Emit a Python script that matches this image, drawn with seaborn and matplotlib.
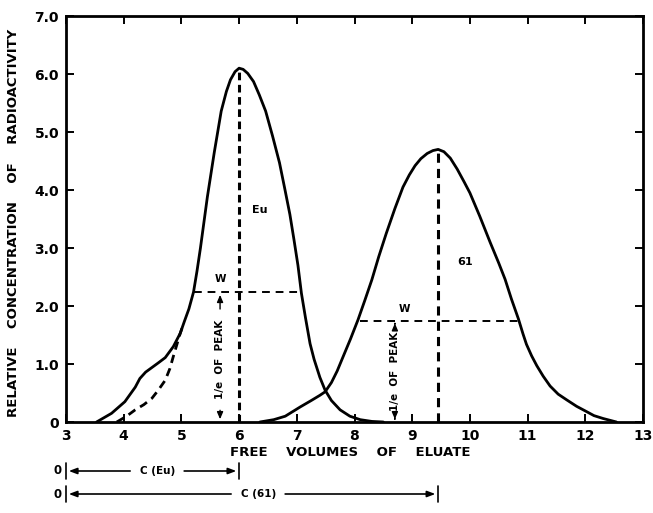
import matplotlib
matplotlib.use("Agg")
import matplotlib.pyplot as plt
import seaborn as sns
import pandas as pd
from matplotlib.transforms import blended_transform_factory

# ---------------- data ----------------
eu_x = [3.53, 3.79, 4.02, 4.20, 4.28, 4.38, 4.49, 4.60, 4.72, 4.86, 4.98, 5.05,
        5.13, 5.21, 5.27, 5.33, 5.45, 5.57, 5.69, 5.78, 5.85, 5.93, 6.00, 6.07,
        6.15, 6.25, 6.35, 6.46, 6.58, 6.70, 6.79, 6.88, 6.95, 7.02, 7.08, 7.15,
        7.23, 7.30, 7.40, 7.49, 7.60, 7.75, 7.92, 8.10, 8.30, 8.50]
eu_y = [0.00, 0.15, 0.35, 0.60, 0.75, 0.86, 0.94, 1.02, 1.11, 1.30, 1.53, 1.73,
        1.95, 2.24, 2.60, 3.00, 3.88, 4.65, 5.36, 5.70, 5.90, 6.04, 6.10, 6.08,
        6.01, 5.87, 5.64, 5.36, 4.93, 4.47, 4.03, 3.58, 3.15, 2.70, 2.22, 1.80,
        1.35, 1.08, 0.77, 0.55, 0.37, 0.21, 0.10, 0.04, 0.01, 0.00]

eu_dash_x = [3.88, 4.05, 4.20, 4.35, 4.49, 4.60, 4.72, 4.80, 4.86, 4.92, 4.98, 5.04]
eu_dash_y = [0.00, 0.10, 0.21, 0.30, 0.41, 0.55, 0.72, 0.92, 1.13, 1.33, 1.53, 1.70]

p61_x = [6.36, 6.60, 6.80, 7.06, 7.25, 7.40, 7.49, 7.60, 7.70, 7.80, 7.93, 8.06,
         8.18, 8.30, 8.42, 8.55, 8.70, 8.84, 8.95, 9.05, 9.15, 9.26, 9.36, 9.45,
         9.55, 9.66, 9.78, 9.90, 10.00, 10.17, 10.35, 10.50, 10.61, 10.72, 10.84,
         10.92, 10.98, 11.07, 11.16, 11.27, 11.39, 11.53, 11.68, 11.85, 12.02,
         12.15, 12.31, 12.54]
p61_y = [0.00, 0.04, 0.10, 0.26, 0.37, 0.46, 0.52, 0.68, 0.88, 1.12, 1.43, 1.76,
         2.10, 2.45, 2.85, 3.25, 3.68, 4.05, 4.26, 4.42, 4.54, 4.63, 4.68, 4.70,
         4.66, 4.55, 4.36, 4.14, 3.95, 3.55, 3.10, 2.74, 2.46, 2.12, 1.78,
         1.52, 1.34, 1.14, 0.97, 0.79, 0.62, 0.48, 0.38, 0.27, 0.18,
         0.11, 0.06, 0.00]

eu_peak = (6.0, 6.1)
eu_w_y = 2.24
eu_w_x = (5.21, 7.07)
p61_peak = (9.45, 4.7)
p61_w_y = 1.75
p61_w_x = (8.10, 10.84)

x_ticks = list(range(3, 14))
y_ticks = [0, 1, 2, 3, 4, 5, 6, 7]
y_tick_labels = ["0", "1.0", "2.0", "3.0", "4.0", "5.0", "6.0", "7.0"]

# ---------------- style ----------------
sns.set_theme(style="ticks")
plt.rcParams["font.family"] = ["DejaVu Sans"]
plt.rcParams["font.weight"] = "bold"
plt.rcParams["text.color"] = "black"
plt.rcParams["axes.labelcolor"] = "black"

fig = plt.figure(figsize=(6.53, 5.13), dpi=100)
ax = fig.add_axes([66 / 653, 91 / 513, 577 / 653, 406 / 513])

df_eu = pd.DataFrame({"x": eu_x, "y": eu_y})
df_eud = pd.DataFrame({"x": eu_dash_x, "y": eu_dash_y})
df_61 = pd.DataFrame({"x": p61_x, "y": p61_y})

sns.lineplot(data=df_eu, x="x", y="y", ax=ax, color="black", lw=2.0,
             sort=False, estimator=None)
sns.lineplot(data=df_61, x="x", y="y", ax=ax, color="black", lw=2.0,
             sort=False, estimator=None)
sns.lineplot(data=df_eud, x="x", y="y", ax=ax, color="black", lw=2.0,
             sort=False, estimator=None, linestyle=(0, (3, 2)))
for ln in ax.lines:
    ln.set_solid_joinstyle("round")
    ln.set_solid_capstyle("round")

# peak verticals and half-width horizontals
ax.plot([eu_peak[0], eu_peak[0]], [0, eu_peak[1]], color="black", lw=2.2,
        linestyle=(0, (2.5, 1.5)))
ax.plot([p61_peak[0], p61_peak[0]], [0, p61_peak[1]], color="black", lw=2.2,
        linestyle=(0, (3, 2)))
ax.plot(list(eu_w_x), [eu_w_y, eu_w_y], color="black", lw=1.4,
        linestyle=(0, (4, 3)))
ax.plot(list(p61_w_x), [p61_w_y, p61_w_y], color="black", lw=1.4,
        linestyle=(0, (4, 3)))

# labels on curves
ax.text(6.36, 3.65, "Eu", fontsize=8, ha="center", va="center")
ax.text(9.92, 2.76, "61", fontsize=8, ha="center", va="center")

# 1/e of peak annotations
arrow_kw = dict(arrowstyle="-|>,head_length=0.35,head_width=0.15", color="black", lw=1.0)
for xpos, wy, lo, hi in [(5.67, eu_w_y, 0.25, 1.9),
                         (8.70, p61_w_y, 0.1, 1.65)]:
    ax.text(xpos, (lo + hi) / 2, "1/e  OF  PEAK", rotation=90, fontsize=7.5,
            ha="center", va="center")
    ax.annotate("", xy=(xpos, 0.0), xytext=(xpos, lo), arrowprops=arrow_kw)
    ax.annotate("", xy=(xpos, wy), xytext=(xpos, hi), arrowprops=arrow_kw)
ax.text(5.67, 2.47, "W", fontsize=7.5, ha="center", va="center")
ax.text(8.86, 1.95, "W", fontsize=7.5, ha="center", va="center")

# axes
ax.set_xlim(3, 13)
ax.set_ylim(0, 7)
ax.set_xticks(x_ticks)
ax.set_xticklabels([str(t) for t in x_ticks])
ax.set_yticks(y_ticks)
ax.set_yticklabels(y_tick_labels)
ax.tick_params(direction="in", length=6, width=1.4, top=True, right=True,
               labelsize=10, pad=5, colors="black")
for s in ax.spines.values():
    s.set_linewidth(2.0)
    s.set_color("black")
ax.set_xlabel("")
ax.set_ylabel("")

fig.text(14 / 653, 0.565, "RELATIVE    CONCENTRATION    OF    RADIOACTIVITY",
         rotation=90, ha="center", va="center", fontsize=9.5)
fig.text(350 / 653, (513 - 452) / 513, "FREE    VOLUMES    OF    ELUATE",
         ha="center", va="center", fontsize=9.5)

# C(Eu), C(61) scales below the axis
trans = blended_transform_factory(ax.transData, fig.transFigure)
rows = [((513 - 471) / 513, 6.0, 4.58, "C (Eu)"),
        ((513 - 494) / 513, 9.45, 6.33, "C (61)")]
arr = dict(arrowstyle="-|>,head_length=0.4,head_width=0.15", color="black", lw=1.2)
for yf, xend, xtxt, lab in rows:
    ax.text(xtxt, yf, lab, transform=trans, ha="center", va="center",
            fontsize=7.5, clip_on=False)
    ax.text(2.86, yf, "0", transform=trans, ha="center", va="center",
            fontsize=8.5, clip_on=False)
    half = 0.42
    ax.annotate("", xy=(3.0, yf), xytext=(xtxt - half, yf), xycoords=trans,
                textcoords=trans, arrowprops=arr, annotation_clip=False)
    ax.annotate("", xy=(xend, yf), xytext=(xtxt + half, yf), xycoords=trans,
                textcoords=trans, arrowprops=arr, annotation_clip=False)
    for xb in (3.0, xend):
        ax.plot([xb, xb], [yf - 0.016, yf + 0.016], transform=trans,
                color="black", lw=1.2, clip_on=False)

fig.savefig("out.png", dpi=100, facecolor="white")
